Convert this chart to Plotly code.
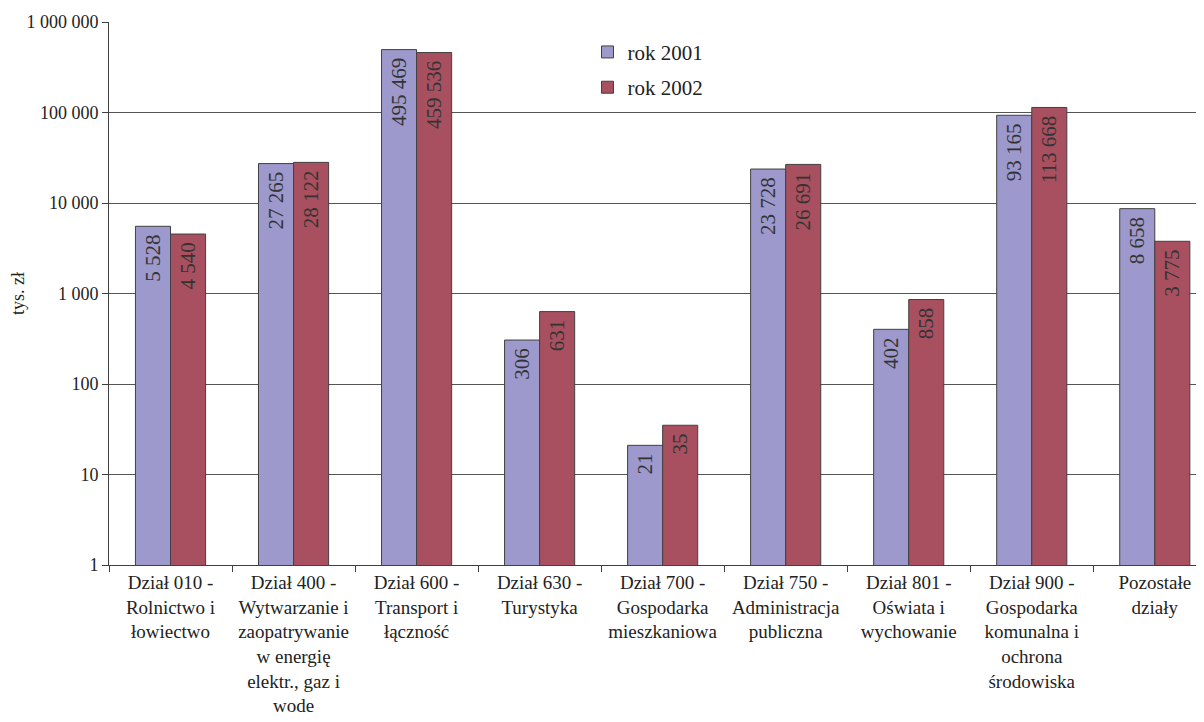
import plotly.graph_objects as go

categories = [
    "Dział 010 -<br>Rolnictwo i<br>łowiectwo",
    "Dział 400 -<br>Wytwarzanie i<br>zaopatrywanie<br>w energię<br>elektr., gaz i<br>wode",
    "Dział 600 -<br>Transport i<br>łączność",
    "Dział 630 -<br>Turystyka",
    "Dział 700 -<br>Gospodarka<br>mieszkaniowa",
    "Dział 750 -<br>Administracja<br>publiczna",
    "Dział 801 -<br>Oświata i<br>wychowanie",
    "Dział 900 -<br>Gospodarka<br>komunalna i<br>ochrona<br>środowiska",
    "Pozostałe<br>działy",
]
rok_2001 = [5528, 27265, 495469, 306, 21, 23728, 402, 93165, 8658]
rok_2002 = [4540, 28122, 459536, 631, 35, 26691, 858, 113668, 3775]
tick_vals = [1, 10, 100, 1000, 10000, 100000, 1000000]
tick_text = ["1", "10", "100", "1 000", "10 000", "100 000", "1 000 000"]


def fmt(v):
    return f"{v:,}".replace(",", " ") + "\u00a0"


FONT = "Liberation Serif"

fig = go.Figure()
for name, vals, color in [("rok 2001", rok_2001, "#9d99cc"), ("rok 2002", rok_2002, "#a8505f")]:
    fig.add_trace(go.Bar(
        name=name, x=categories, y=vals, legendgroup=name,
        marker=dict(color=color, line=dict(color="#404040", width=1)),
        text=[fmt(v) for v in vals],
        textposition="inside", insidetextanchor="end", textangle=-90,
        textfont=dict(family=FONT, size=21, color="#333333"),
        constraintext="none",
        hoverinfo="skip",
    ))

fig.update_layout(
    width=1196, height=714,
    margin=dict(l=101, r=0, t=14, b=157),
    paper_bgcolor="white", plot_bgcolor="white",
    barmode="group", bargap=0.43, bargroupgap=0,
    font=dict(family=FONT, size=18, color="#222222"),
    showlegend=True,
    legend=dict(x=0.437, y=0.982, xanchor="left", yanchor="top",
                font=dict(family=FONT, size=21, color="#222222"),
                bgcolor="rgba(0,0,0,0)", tracegroupgap=5),
)
fig.update_xaxes(
    range=[-0.5, 8.4], tickson="boundaries", ticks="outside", ticklen=6,
    tickcolor="#404040", showline=True, linecolor="#404040", linewidth=1,
    showgrid=False, tickfont=dict(family=FONT, size=19, color="#222222"),
    tickangle=0, automargin=False,
)
fig.update_yaxes(
    type="log", range=[0, 6], tickvals=tick_vals, ticktext=tick_text,
    ticks="outside", ticklen=6, tickcolor="#404040",
    showline=True, linecolor="#404040", linewidth=1,
    showgrid=True, gridcolor="#555555", gridwidth=1,
    tickfont=dict(family=FONT, size=18, color="#222222"),
    title=dict(text="tys. zł", font=dict(family=FONT, size=18, color="#222222"), standoff=4),
    automargin=False,
)

fig.write_html("out.html")
